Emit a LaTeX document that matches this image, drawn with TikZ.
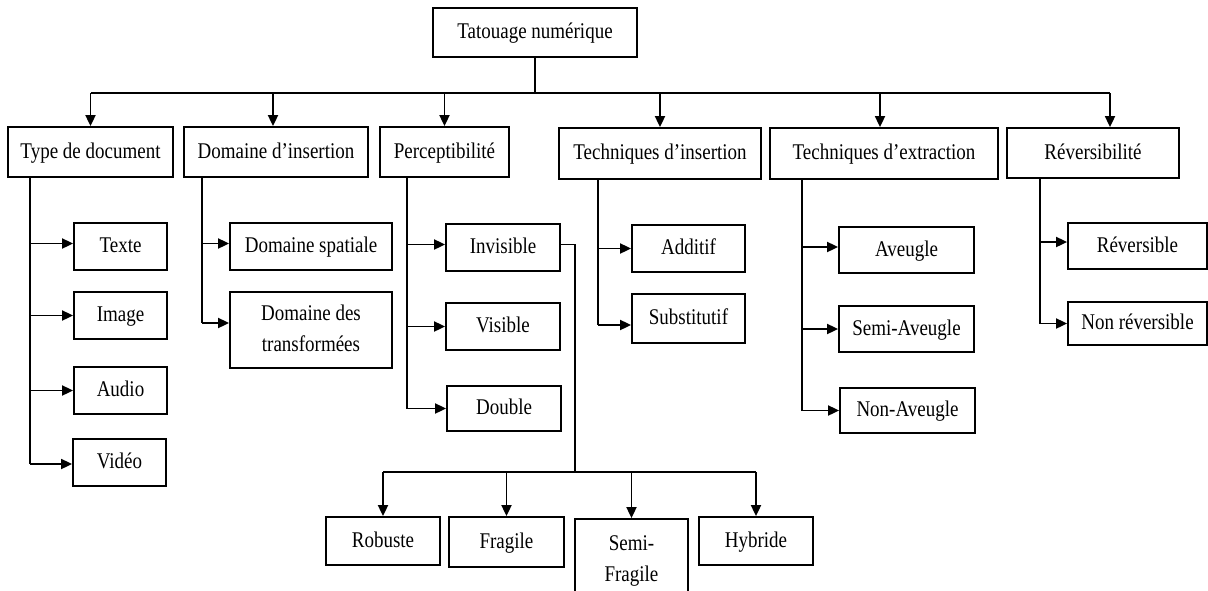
\documentclass[tikz,border=0pt]{standalone}
\usepackage{fontspec}
\setmainfont{Liberation Serif}
\usetikzlibrary{arrows.meta}
\newcommand{\lbl}[1]{\scalebox{1}[1.18]{\begin{tabular}{@{}c@{}}#1\end{tabular}}}
\begin{document}
\begin{tikzpicture}[x=1pt,y=-1pt,line width=1.8pt,
  box/.style={draw,line width=1.8pt,inner sep=0pt,font=\fontsize{19}{26}\selectfont},
  arr/.style={-{Triangle[length=11pt,width=10pt]}}]
\useasboundingbox (0,0) rectangle (1208,590);
\clip (0,0) rectangle (1208,590);
% root
\node[box,minimum width=204pt,minimum height=49pt] (root) at (535,32.5) {\lbl{Tatouage numérique}};
% level 1
\node[box,minimum width=165pt,minimum height=50pt] (type) at (90.5,152) {\lbl{Type de document}};
\node[box,minimum width=184pt,minimum height=50pt] (dom) at (276,152) {\lbl{Domaine d’insertion}};
\node[box,minimum width=129pt,minimum height=50pt] (perc) at (444.5,152) {\lbl{Perceptibilité}};
\node[box,minimum width=202pt,minimum height=51pt] (tins) at (660,153.5) {\lbl{Techniques d’insertion}};
\node[box,minimum width=228pt,minimum height=51pt] (text) at (884,153.5) {\lbl{Techniques d’extraction}};
\node[box,minimum width=172pt,minimum height=50pt] (rev) at (1093,153) {\lbl{Réversibilité}};
% type children
\node[box,minimum width=93pt,minimum height=47pt] (texte) at (120.5,246.5) {\lbl{Texte}};
\node[box,minimum width=93pt,minimum height=47pt] (image) at (120.5,315.5) {\lbl{Image}};
\node[box,minimum width=93pt,minimum height=47pt] (audio) at (120.5,390.5) {\lbl{Audio}};
\node[box,minimum width=93pt,minimum height=47pt] (video) at (119.5,462.5) {\lbl{Vidéo}};
% domaine children
\node[box,minimum width=162pt,minimum height=47pt] (dspat) at (311,246.5) {\lbl{Domaine spatiale}};
\node[box,minimum width=162pt,minimum height=76pt] (dtrans) at (311,330) {\lbl{Domaine des\\transformées}};
% perceptibility children
\node[box,minimum width=114pt,minimum height=47pt] (invis) at (503,247.5) {\lbl{Invisible}};
\node[box,minimum width=114pt,minimum height=47pt] (vis) at (503,326.5) {\lbl{Visible}};
\node[box,minimum width=114pt,minimum height=45pt] (dbl) at (504,408.5) {\lbl{Double}};
% techniques d'insertion children
\node[box,minimum width=113pt,minimum height=47pt] (add) at (688.5,248.5) {\lbl{Additif}};
\node[box,minimum width=113pt,minimum height=49pt] (subst) at (688.5,318.5) {\lbl{Substitutif}};
% techniques d'extraction children
\node[box,minimum width=135pt,minimum height=46pt] (av) at (906.5,250) {\lbl{Aveugle}};
\node[box,minimum width=135pt,minimum height=46pt] (sav) at (906.5,329) {\lbl{Semi-Aveugle}};
\node[box,minimum width=135pt,minimum height=45pt] (nav) at (907.5,410.5) {\lbl{Non-Aveugle}};
% reversibilite children
\node[box,minimum width=139pt,minimum height=46pt] (rvs) at (1137.5,246) {\lbl{Réversible}};
\node[box,minimum width=139pt,minimum height=43pt] (nrvs) at (1137.5,323.5) {\lbl{Non réversible}};
% bottom
\node[box,minimum width=114pt,minimum height=48pt] (rob) at (383,541) {\lbl{Robuste}};
\node[box,minimum width=115pt,minimum height=50pt] (frag) at (506.5,542) {\lbl{Fragile}};
\node[box,minimum width=113pt,minimum height=82pt] (sfrag) at (631.5,560) {\lbl{Semi-\\Fragile}};
\node[box,minimum width=114pt,minimum height=48pt] (hyb) at (756,541) {\lbl{Hybride}};
% top bus
\coordinate (tbus) at (0,93);
\draw (root.south) -- (root.south |- tbus);
\draw (type.north |- tbus) -- ([xshift=17pt]rev.north |- tbus);
\foreach \n in {type,perc,tins}{\draw[arr] (\n.north |- tbus) -- (\n.north);}
\draw[arr] ([xshift=-3pt]dom.north |- tbus) -- ([xshift=-3pt]dom.north);
\draw[arr] ([xshift=-4pt]text.north |- tbus) -- ([xshift=-4pt]text.north);
\draw[arr] ([xshift=17pt]rev.north |- tbus) -- ([xshift=17pt]rev.north);
% type spine
\coordinate (s1) at (30,0);
\draw (s1 |- type.south) -- ([yshift=-1.5pt]s1 |- video.west);
\draw[arr] ([yshift=3pt]s1 |- texte.west) -- ([yshift=3pt]texte.west);
\foreach \n in {image,audio}{\draw[arr] (s1 |- \n.west) -- (\n.west);}
\draw[arr] ([yshift=-1.5pt]s1 |- video.west) -- ([yshift=-1.5pt]video.west);
% domaine spine
\coordinate (s2) at (202,0);
\draw (s2 |- dom.south) -- ([yshift=7pt]s2 |- dtrans.west);
\draw[arr] ([yshift=3pt]s2 |- dspat.west) -- ([yshift=3pt]dspat.west);
\draw[arr] ([yshift=7pt]s2 |- dtrans.west) -- ([yshift=7pt]dtrans.west);
% perceptibilite spine
\coordinate (s3) at (407,0);
\draw (s3 |- perc.south) -- (s3 |- dbl.west);
\draw[arr] ([yshift=3pt]s3 |- invis.west) -- ([yshift=3pt]invis.west);
\foreach \n in {vis,dbl}{\draw[arr] (s3 |- \n.west) -- (\n.west);}
% techniques d'insertion spine
\coordinate (s4) at (598,0);
\draw (s4 |- tins.south) -- ([yshift=-6.5pt]s4 |- subst.west);
\draw[arr] (s4 |- add.west) -- (add.west);
\draw[arr] ([yshift=-6.5pt]s4 |- subst.west) -- ([yshift=-6.5pt]subst.west);
% techniques d'extraction spine
\coordinate (s5) at (802,0);
\draw (s5 |- text.south) -- (s5 |- nav.west);
\draw[arr] ([yshift=3pt]s5 |- av.west) -- ([yshift=3pt]av.west);
\draw[arr] (s5 |- sav.west) -- (sav.west);
\draw[arr] (s5 |- nav.west) -- (nav.west);
% reversibilite spine
\coordinate (s6) at (1040,0);
\draw (s6 |- rev.south) -- (s6 |- nrvs.west);
\draw[arr] ([yshift=4pt]s6 |- rvs.west) -- ([yshift=4pt]rvs.west);
\draw[arr] (s6 |- nrvs.west) -- (nrvs.west);
% bottom bus
\coordinate (bbus) at (575,472);
\draw ([yshift=3pt]invis.east) -| (bbus);
\draw (rob.north |- bbus) -- (hyb.north |- bbus);
\foreach \n in {rob,frag,sfrag,hyb}{\draw[arr] (\n.north |- bbus) -- (\n.north);}
\end{tikzpicture}
\end{document}
